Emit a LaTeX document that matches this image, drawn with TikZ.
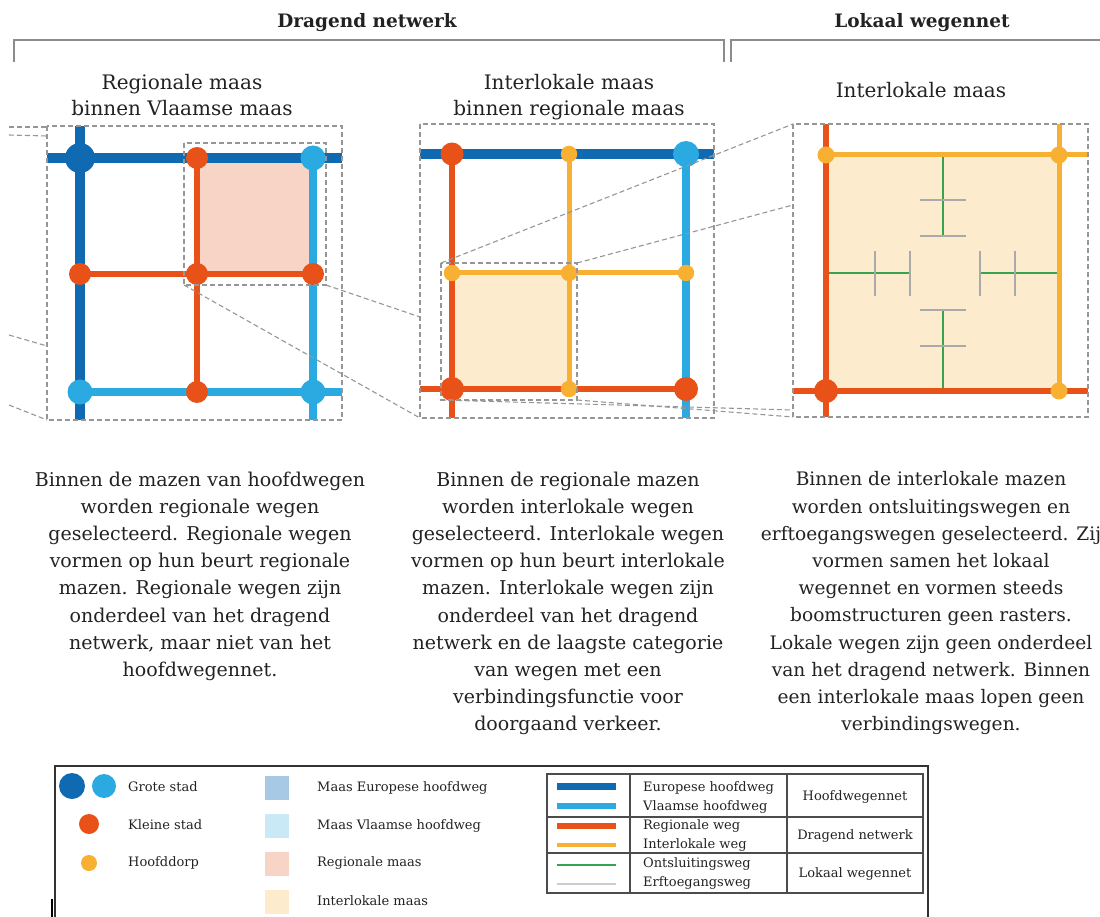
\documentclass[tikz,border=0pt]{standalone}
\usepackage{fontspec}
\setmainfont{DejaVu Serif}
\definecolor{eublue}{RGB}{16,106,178}
\definecolor{vlblue}{RGB}{42,170,224}
\definecolor{regor}{RGB}{232,82,24}
\definecolor{ilyel}{RGB}{248,176,50}
\definecolor{olgreen}{RGB}{52,165,78}
\definecolor{ergrey}{RGB}{170,170,170}
\definecolor{pinkfill}{RGB}{248,212,198}
\definecolor{creamfill}{RGB}{252,235,205}
\definecolor{eufill}{RGB}{167,201,229}
\definecolor{vlfill}{RGB}{202,233,247}
\definecolor{dashgrey}{RGB}{150,150,150}
\definecolor{txt}{RGB}{34,34,34}
\definecolor{brk}{RGB}{140,140,140}
\begin{document}
\begin{tikzpicture}[x=1pt,y=-1pt,
  eu/.style={draw=eublue,line width=10pt},
  vl/.style={draw=vlblue,line width=8.5pt},
  rg/.style={draw=regor,line width=6.5pt},
  il/.style={draw=ilyel,line width=5pt},
  ol/.style={draw=olgreen,line width=2.5pt},
  er/.style={draw=ergrey,line width=1.8pt},
  proj/.style={draw=dashgrey,line width=1.1pt,dash pattern=on 5pt off 3pt},
  dot/.style={circle,inner sep=0pt,outer sep=0pt},
  ceu/.style={dot,fill=eublue,minimum size=30pt},
  cvl/.style={dot,fill=vlblue,minimum size=25pt},
  crg/.style={dot,fill=regor,minimum size=22pt},
  cil/.style={dot,fill=ilyel,minimum size=16.5pt},
  body/.style={font=\fontsize{19}{27.2}\selectfont,text=txt,align=center,anchor=north,inner sep=0pt},
  ttl/.style={font=\fontsize{20}{26}\selectfont,text=txt,align=center,anchor=north,inner sep=0pt},
  hdr/.style={font=\bfseries\fontsize{18.5}{22}\selectfont,text=txt,anchor=base,inner sep=0pt},
  lg/.style={font=\fontsize{13}{19}\selectfont,text=txt,inner sep=0pt},
  swatch/.style={minimum width=24pt,minimum height=24pt,inner sep=0pt,anchor=north west},
  brack/.style={draw=brk,line width=1.2pt},
]
\useasboundingbox (0,0) rectangle (1100,917);

% ---------- headers ----------
\node[hdr] (hdrag) at (367,28) {Dragend netwerk};
\node[hdr] (hlok) at (922,28) {Lokaal wegennet};
\coordinate (b1a) at (14,62); \coordinate (b1b) at (14,40);
\coordinate (b1c) at (724,40); \coordinate (b1d) at (724,62);
\coordinate (b2a) at (731,62); \coordinate (b2b) at (731,40);
\coordinate (b2c) at (1100,40);
\draw[brack] (b1a) -- (b1b) -- (b1c) -- (b1d);
\draw[brack] (b2a) -- (b2b) -- (b2c);

% ---------- titles ----------
\node[ttl] (t1) at (182,74) {Regionale maas\\binnen Vlaamse maas};
\node[ttl] (t2) at (569,74) {Interlokale maas\\binnen regionale maas};
\node[ttl] (t3) at (921,82) {Interlokale maas};

% ---------- panel 1 ----------
\fill[pinkfill,rounded corners=3pt] (197,158) rectangle (313,274);
\coordinate (p1aa) at (80,158); \coordinate (p1ba) at (197,158); \coordinate (p1ca) at (313,158);
\coordinate (p1ab) at (80,274); \coordinate (p1bb) at (197,274); \coordinate (p1cb) at (313,274);
\coordinate (p1ac) at (80,392); \coordinate (p1bc) at (197,392); \coordinate (p1cc) at (313,392);
\coordinate (p1w) at (47,158); \coordinate (p1e) at (342,158);
\coordinate (p1n) at (80,126); \coordinate (p1s) at (80,420);
\coordinate (p1s2) at (313,420); \coordinate (p1e3) at (342,392);
\draw[rg] (p1ab) -- (p1cb);
\draw[rg] (p1ba) -- (p1bc);
\draw[vl] (p1ca) -- (p1s2);
\draw[vl] (p1ac) -- (p1e3);
\draw[eu] (p1w) -- (p1e);
\draw[eu] (p1n) -- (p1s);
\node[ceu] (n1aa) at (p1aa) {};
\node[crg] (n1ba) at (p1ba) {};
\node[cvl] (n1ca) at (p1ca) {};
\node[crg] (n1ab) at (p1ab) {};
\node[crg] (n1bb) at (p1bb) {};
\node[crg] (n1cb) at (p1cb) {};
\node[cvl] (n1ac) at (p1ac) {};
\node[crg] (n1bc) at (p1bc) {};
\node[cvl] (n1cc) at (p1cc) {};

% ---------- panel 2 ----------
\fill[creamfill,rounded corners=3pt] (452,273) rectangle (569,389);
\coordinate (p2aa) at (452,154); \coordinate (p2ba) at (569,154); \coordinate (p2ca) at (686,154);
\coordinate (p2ab) at (452,273); \coordinate (p2bb) at (569,273); \coordinate (p2cb) at (686,273);
\coordinate (p2ac) at (452,389); \coordinate (p2bc) at (569,389); \coordinate (p2cc) at (686,389);
\coordinate (p2w) at (420,154); \coordinate (p2e) at (714,154);
\coordinate (p2s1) at (452,418); \coordinate (p2s3) at (686,418);
\coordinate (p2w3) at (420,389);
\draw[il] (p2ba) -- (p2bc);
\draw[il] (p2ab) -- (p2cb);
\draw[rg] (p2aa) -- (p2s1);
\draw[vl] (p2ca) -- (p2s3);
\draw[rg] (p2w3) -- (p2cc);
\draw[eu] (p2w) -- (p2e);
\node[crg,minimum size=23pt] (n2aa) at (p2aa) {};
\node[cil] (n2ba) at (p2ba) {};
\node[cvl,minimum size=26pt] (n2ca) at (p2ca) {};
\node[cil] (n2ab) at (p2ab) {};
\node[cil] (n2bb) at (p2bb) {};
\node[cil] (n2cb) at (p2cb) {};
\node[crg,minimum size=24pt] (n2ac) at (p2ac) {};
\node[cil] (n2bc) at (p2bc) {};
\node[crg,minimum size=24pt] (n2cc) at (p2cc) {};

% ---------- panel 3 ----------
\fill[creamfill,rounded corners=3pt] (826,155) rectangle (1059,391);
\coordinate (p3aa) at (826,155); \coordinate (p3ba) at (1059,155);
\coordinate (p3ab) at (826,391); \coordinate (p3bb) at (1059,391);
\coordinate (p3n1) at (826,124); \coordinate (p3s1) at (826,417);
\coordinate (p3w2) at (793,391); \coordinate (p3e2) at (1088,391);
\coordinate (p3e1) at (1088,155); \coordinate (p3n2) at (1059,124);
% local roads
\coordinate (lt0) at (943,155); \coordinate (lt1) at (943,236);
\coordinate (lb0) at (943,391); \coordinate (lb1) at (943,310);
\coordinate (ll0) at (826,273); \coordinate (ll1) at (910,273);
\coordinate (lr0) at (1059,273); \coordinate (lr1) at (980,273);
\draw[ol] (lt0) -- (lt1);
\draw[ol] (lb0) -- (lb1);
\draw[ol] (ll0) -- (ll1);
\draw[ol] (lr0) -- (lr1);
\coordinate (e1a) at (920,200); \coordinate (e1b) at (966,200);
\coordinate (e2a) at (920,236); \coordinate (e2b) at (966,236);
\coordinate (e3a) at (920,310); \coordinate (e3b) at (966,310);
\coordinate (e4a) at (920,346); \coordinate (e4b) at (966,346);
\coordinate (e5a) at (875,251); \coordinate (e5b) at (875,296);
\coordinate (e6a) at (910,251); \coordinate (e6b) at (910,296);
\coordinate (e7a) at (980,251); \coordinate (e7b) at (980,296);
\coordinate (e8a) at (1015,251); \coordinate (e8b) at (1015,296);
\draw[er] (e1a) -- (e1b);
\draw[er] (e2a) -- (e2b);
\draw[er] (e3a) -- (e3b);
\draw[er] (e4a) -- (e4b);
\draw[er] (e5a) -- (e5b);
\draw[er] (e6a) -- (e6b);
\draw[er] (e7a) -- (e7b);
\draw[er] (e8a) -- (e8b);
\draw[il] (p3aa) -- (p3e1);
\draw[il] (p3n2) -- (p3bb);
\draw[rg] (p3n1) -- (p3s1);
\draw[rg] (p3w2) -- (p3e2);
\node[cil,minimum size=17pt] (n3aa) at (p3aa) {};
\node[cil,minimum size=17pt] (n3ba) at (p3ba) {};
\node[crg,minimum size=24pt] (n3ab) at (p3ab) {};
\node[cil,minimum size=17pt] (n3bb) at (p3bb) {};

% ---------- dashed frames and projections ----------
\coordinate (f1tl) at (47,126); \coordinate (f1br) at (342,420);
\coordinate (f1bl) at (47,420);
\coordinate (i1tl) at (184,143); \coordinate (i1br) at (326,285);
\coordinate (i1bl) at (184,285);
\coordinate (f2tl) at (420,124); \coordinate (f2br) at (714,418);
\coordinate (f2bl) at (420,418); \coordinate (f2l) at (420,317);
\coordinate (i2tl) at (441,263); \coordinate (i2br) at (577,400);
\coordinate (i2tr) at (577,263); \coordinate (i2bl) at (441,400);
\coordinate (f3tl) at (793,124); \coordinate (f3br) at (1088,417);
\coordinate (f3l) at (793,205); \coordinate (f3b1) at (793,410);
\coordinate (f3bl) at (793,417);
\draw[proj] (f1tl) rectangle (f1br);
\draw[proj] (i1tl) rectangle (i1br);
\draw[proj] (f2tl) rectangle (f2br);
\draw[proj] (i2tl) rectangle (i2br);
\draw[proj] (f3tl) rectangle (f3br);
\coordinate (x1) at (9,127); \coordinate (x1e) at (47,127);
\coordinate (x2) at (9,135); \coordinate (x2e) at (47,136);
\coordinate (x3) at (9,335); \coordinate (x3e) at (47,346);
\coordinate (x4) at (9,405); \coordinate (x4e) at (47,420);
\draw[proj] (x1) -- (x1e);
\draw[proj] (x2) -- (x2e);
\draw[proj] (x3) -- (x3e);
\draw[proj] (x4) -- (x4e);
\draw[proj] (i1br) -- (f2l);
\draw[proj] (i1bl) -- (f2bl);
\draw[proj] (i2tl) -- (f3tl);
\draw[proj] (i2tr) -- (f3l);
\draw[proj] (i2bl) -- (f3b1);
\draw[proj] (i2br) -- (f3bl);

% ---------- body texts ----------
\node[body] (txt1) at (200,471.5) {Binnen de mazen van hoofdwegen\\worden regionale wegen\\geselecteerd. Regionale wegen\\vormen op hun beurt regionale\\mazen. Regionale wegen zijn\\onderdeel van het dragend\\netwerk, maar niet van het\\hoofdwegennet.};
\node[body] (txt2) at (568,471.5) {Binnen de regionale mazen\\worden interlokale wegen\\geselecteerd. Interlokale wegen\\vormen op hun beurt interlokale\\mazen. Interlokale wegen zijn\\onderdeel van het dragend\\netwerk en de laagste categorie\\van wegen met een\\verbindingsfunctie voor\\doorgaand verkeer.};
\node[body,font=\fontsize{18.6}{27.2}\selectfont] (txt3) at (931,471.5) {Binnen de interlokale mazen\\worden ontsluitingswegen en\\erftoegangswegen geselecteerd. Zij\\vormen samen het lokaal\\wegennet en vormen steeds\\boomstructuren geen rasters.\\Lokale wegen zijn geen onderdeel\\van het dragend netwerk. Binnen\\een interlokale maas lopen geen\\verbindingswegen.};

% ---------- legend ----------
\coordinate (lgA) at (55,917); \coordinate (lgB) at (55,766);
\coordinate (lgC) at (928,766); \coordinate (lgD) at (928,917);
\draw[draw=black!80,line width=1.5pt] (lgA) -- (lgB) -- (lgC) -- (lgD);
\coordinate (lgK1) at (52,899); \coordinate (lgK2) at (52,917);
\draw[black,line width=2.5pt] (lgK1) -- (lgK2);

\node[ceu,minimum size=26pt] (lgc1) at (72,786) {};
\node[cvl,minimum size=24pt] (lgc2) at (104,786) {};
\node[crg,minimum size=20pt] (lgc3) at (89,824) {};
\node[cil,minimum size=16pt] (lgc4) at (89,863) {};
\node[lg,anchor=base west] (lgt1) at (128,791) {Grote stad};
\node[lg,anchor=base west] (lgt2) at (128,829) {Kleine stad};
\node[lg,anchor=base west] (lgt3) at (128,866) {Hoofddorp};

\node[swatch,fill=eufill] (sw1) at (265,776) {};
\node[swatch,fill=vlfill] (sw2) at (265,814) {};
\node[swatch,fill=pinkfill] (sw3) at (265,852) {};
\node[swatch,fill=creamfill] (sw4) at (265,890) {};
\node[lg,anchor=base west] (swt1) at (317,791) {Maas Europese hoofdweg};
\node[lg,anchor=base west] (swt2) at (317,829) {Maas Vlaamse hoofdweg};
\node[lg,anchor=base west] (swt3) at (317,866) {Regionale maas};
\node[lg,anchor=base west] (swt4) at (317,905) {Interlokale maas};

% table
\coordinate (tbtl) at (547,774); \coordinate (tbbr) at (923,893);
\coordinate (tbh1a) at (547,817); \coordinate (tbh1b) at (923,817);
\coordinate (tbh2a) at (547,853); \coordinate (tbh2b) at (923,853);
\coordinate (tbv1a) at (630,774); \coordinate (tbv1b) at (630,893);
\coordinate (tbv2a) at (787,774); \coordinate (tbv2b) at (787,893);
\draw[black!70,line width=1.2pt] (tbtl) rectangle (tbbr);
\draw[black!70,line width=1.2pt] (tbh1a) -- (tbh1b);
\draw[black!70,line width=1.2pt] (tbh2a) -- (tbh2b);
\draw[black!70,line width=1.2pt] (tbv1a) -- (tbv1b);
\draw[black!70,line width=1.2pt] (tbv2a) -- (tbv2b);

\coordinate (ls1a) at (557,786); \coordinate (ls1b) at (616,786);
\coordinate (ls2a) at (557,806); \coordinate (ls2b) at (616,806);
\coordinate (ls3a) at (557,826); \coordinate (ls3b) at (616,826);
\coordinate (ls4a) at (557,845); \coordinate (ls4b) at (616,845);
\coordinate (ls5a) at (557,865); \coordinate (ls5b) at (616,865);
\coordinate (ls6a) at (557,884); \coordinate (ls6b) at (616,884);
\draw[eu,line width=7pt] (ls1a) -- (ls1b);
\draw[vl,line width=6pt] (ls2a) -- (ls2b);
\draw[rg,line width=5.5pt] (ls3a) -- (ls3b);
\draw[il,line width=4.5pt] (ls4a) -- (ls4b);
\draw[ol,line width=2.5pt] (ls5a) -- (ls5b);
\draw[er,line width=2.5pt,draw=black!20] (ls6a) -- (ls6b);

\node[lg,anchor=base west] (tr1a) at (643,791) {Europese hoofdweg};
\node[lg,anchor=base west] (tr1b) at (643,810) {Vlaamse hoofdweg};
\node[lg,anchor=base west] (tr2a) at (643,829) {Regionale weg};
\node[lg,anchor=base west] (tr2b) at (643,848) {Interlokale weg};
\node[lg,anchor=base west] (tr3a) at (643,867) {Ontsluitingsweg};
\node[lg,anchor=base west] (tr3b) at (643,886) {Erftoegangsweg};
\node[lg,anchor=base] (tc1) at (855,800) {Hoofdwegennet};
\node[lg,anchor=base] (tc2) at (855,839) {Dragend netwerk};
\node[lg,anchor=base] (tc3) at (855,877) {Lokaal wegennet};
\end{tikzpicture}
\end{document}
